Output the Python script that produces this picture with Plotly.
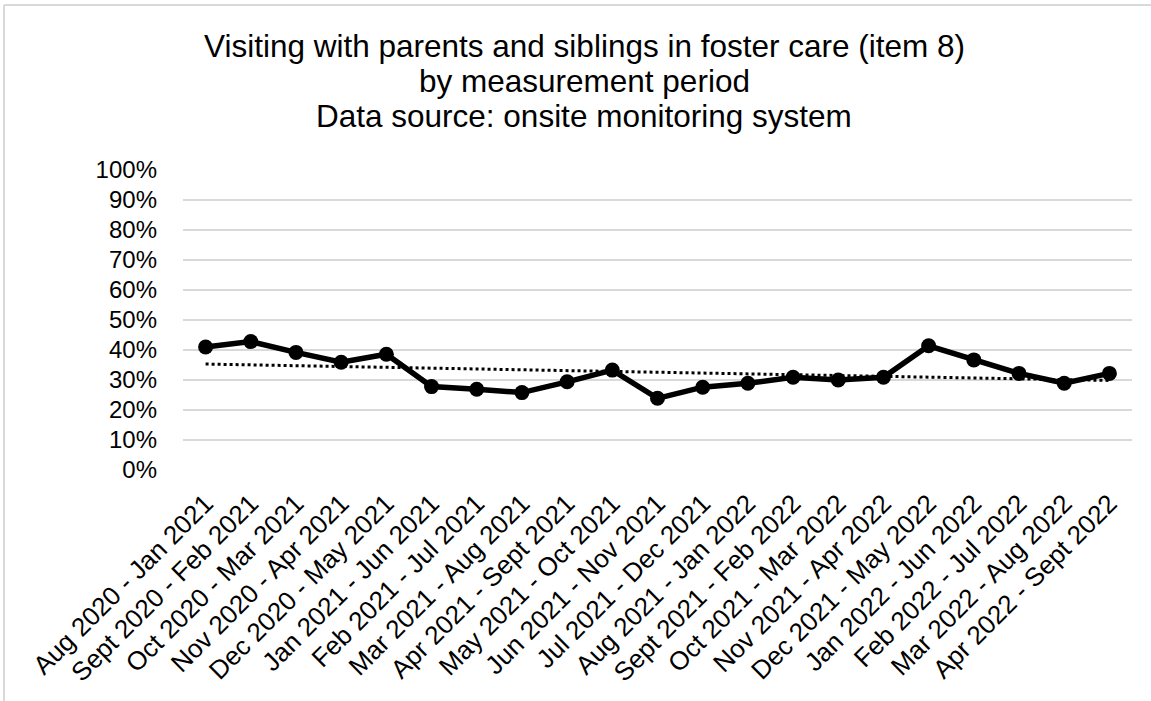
import numpy as np
import plotly.graph_objects as go

periods = [
    "Aug 2020 - Jan 2021", "Sept 2020 - Feb 2021", "Oct 2020 - Mar 2021",
    "Nov 2020 - Apr 2021", "Dec 2020 - May 2021", "Jan 2021 - Jun 2021",
    "Feb 2021 - Jul 2021", "Mar 2021 - Aug 2021", "Apr 2021 - Sept 2021",
    "May 2021 - Oct 2021", "Jun 2021 - Nov 2021", "Jul 2021 - Dec 2021",
    "Aug 2021 - Jan 2022", "Sept 2021 - Feb 2022", "Oct 2021 - Mar 2022",
    "Nov 2021 - Apr 2022", "Dec 2021 - May 2022", "Jan 2022 - Jun 2022",
    "Feb 2022 - Jul 2022", "Mar 2022 - Aug 2022", "Apr 2022 - Sept 2022",
]
values = [0.410, 0.428, 0.392, 0.359, 0.386, 0.278, 0.269, 0.258, 0.294,
          0.333, 0.239, 0.276, 0.289, 0.309, 0.300, 0.309, 0.414, 0.367,
          0.322, 0.289, 0.322]
ytick_vals = [i / 10 for i in range(11)]
ytick_text = [f"{i * 10}%" for i in range(11)]
title_lines = [
    "Visiting with parents and siblings in foster care (item 8)",
    "by measurement period",
    "Data source: onsite monitoring system",
]

# Linear trendline (as in the spreadsheet chart)
idx = np.arange(len(values))
slope, intercept = np.polyfit(idx, values, 1)
trend = slope * idx + intercept

FONT = "Liberation Sans, Arial, sans-serif"

# plot-area geometry in pixels
L, R, T, B = 183, 19, 170, 231
W, H = 1151, 701
PW, PH = W - L - R, H - T - B


def px_x(x):
    return (x - L) / PW


def px_y(y):
    return (H - B - y) / PH


fig = go.Figure()
fig.add_trace(go.Scatter(
    x=periods, y=trend, mode="lines",
    line=dict(color="black", width=3, dash="dot"),
    hoverinfo="skip", showlegend=False,
))
fig.add_trace(go.Scatter(
    x=periods, y=values, mode="lines+markers",
    line=dict(color="black", width=5.5),
    marker=dict(color="black", size=15),
    showlegend=False,
))

title_y = [46, 81, 116]
annotations = [
    dict(text=t, xref="paper", yref="paper", x=px_x(584), y=px_y(yy),
         xanchor="center", yanchor="middle", showarrow=False,
         font=dict(size=31.5, family=FONT, color="black"))
    for t, yy in zip(title_lines, title_y)
]

fig.update_layout(
    width=W, height=H,
    margin=dict(l=L, r=R, t=T, b=B),
    paper_bgcolor="white", plot_bgcolor="white",
    font=dict(family=FONT, color="black"),
    annotations=annotations,
    xaxis=dict(
        type="category", tickangle=-45, range=[-0.5, len(periods) - 0.5],
        tickfont=dict(size=26, family=FONT, color="black"),
        showgrid=False, zeroline=False, showline=False, ticks="",
        ticklabelstandoff=12,
    ),
    yaxis=dict(
        range=[0, 1.0], tickvals=ytick_vals, ticktext=ytick_text,
        tickfont=dict(size=24, family=FONT, color="black"),
        showgrid=True, gridcolor="#d9d9d9", gridwidth=1.5,
        zeroline=False, showline=False, ticks="",
        ticklabelstandoff=25,
    ),
    shapes=[
        dict(type="line", xref="paper", yref="paper",
             x0=px_x(4), x1=px_x(W), y0=px_y(5), y1=px_y(5),
             line=dict(color="#d9d9d9", width=2)),
        dict(type="line", xref="paper", yref="paper",
             x0=px_x(4), x1=px_x(4), y0=px_y(5), y1=px_y(H + 5),
             line=dict(color="#d9d9d9", width=2)),
    ],
)

fig.write_html("out.html", config={"displayModeBar": False},
               post_script="document.body.style.margin='0';")
